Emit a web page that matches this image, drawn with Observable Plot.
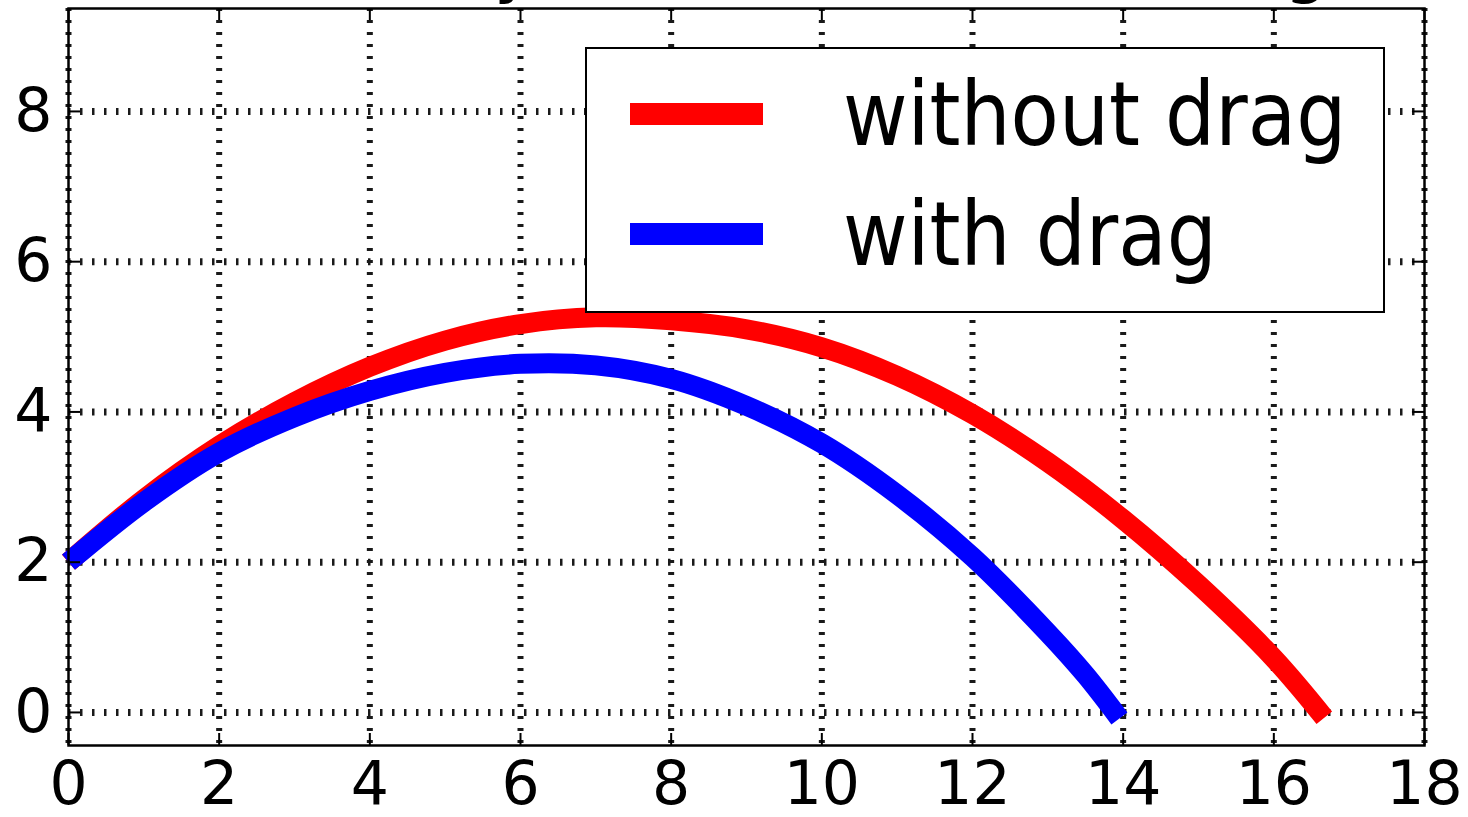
<!DOCTYPE html>
<html>
<head>
<meta charset="utf-8">
<script src="https://cdn.jsdelivr.net/npm/d3@7"></script>
<script src="https://cdn.jsdelivr.net/npm/@observablehq/plot@0.6"></script>
<style>
  html, body { margin: 0; padding: 0; background: white; overflow: hidden; }
  #wrap { position: relative; width: 1468px; height: 817px; font-family: "DejaVu Sans", sans-serif; }
  #title { position: absolute; left: -52px; top: -69px; font-size: 70px; line-height: 1; color: black; white-space: nowrap; z-index: 5; }
  #legend { position: absolute; left: 585px; top: 47px; width: 800px; height: 266px; box-sizing: border-box; border: 2px solid black; background: white; }
  .sw { position: absolute; left: 43px; width: 133px; height: 22px; }
  .lt { position: absolute; left: 256px; font-size: 79px; line-height: 1; color: black; white-space: nowrap; transform-origin: 0 66.8px; transform: scaleY(1.12); }
</style>
</head>
<body>
<div id="wrap">
  <div id="chart"></div>
  <div id="title"></div>
  <div id="legend"></div>
</div>
<script>
// Tick values
const xTicks = [0, 2, 4, 6, 8, 10, 12, 14, 16, 18];
const yTicks = [0, 2, 4, 6, 8];

// Series: without drag (red)
const redX = [0, 1, 2, 3, 4, 5, 6, 7, 8, 9, 10, 11, 12, 13, 14, 15, 16, 16.67];
const redY = [2.0, 2.84, 3.55, 4.13, 4.6, 4.95, 5.17, 5.26, 5.22, 5.1, 4.86, 4.48, 3.97, 3.33, 2.57, 1.7, 0.72, -0.07];

// Series: with drag (blue)
const blueX = [0, 1, 2, 3, 4, 5, 6, 7, 8, 9, 10, 11, 12, 13, 13.5, 13.95];
const blueY = [2.0, 2.8, 3.46, 3.93, 4.28, 4.52, 4.64, 4.62, 4.44, 4.08, 3.58, 2.9, 2.07, 1.06, 0.5, -0.08];

const seriesNames = ["without drag", "with drag"];
const seriesColors = ["red", "blue"];
const titleText = "Motion of a body with and without drag";

const red = redX.map((x, i) => ({x, y: redY[i]}));
const blue = blueX.map((x, i) => ({x, y: blueY[i]}));

const xDom = [0, 18];
const yDom = [-0.44, 9.37];
const tx = 0.16, ty = 0.16;

const chart = Plot.plot({
  width: 1468,
  height: 817,
  marginLeft: 68,
  marginRight: 44,
  marginTop: 8,
  marginBottom: 72,
  x: {domain: xDom, label: null},
  y: {domain: yDom, label: null},
  style: {fontFamily: "DejaVu Sans", fontSize: "60px", color: "black", background: "white"},
  marks: [
    Plot.ruleY(yTicks, {stroke: "#1a1a1a", strokeWidth: 7, strokeDasharray: "2.5,9.5"}),
    Plot.ruleX(xTicks, {stroke: "#1a1a1a", strokeWidth: 6, strokeDasharray: "3,9"}),
    Plot.line(red, {x: "x", y: "y", stroke: seriesColors[0], strokeWidth: 20, curve: "catmull-rom", strokeLinecap: "butt", strokeLinejoin: "round"}),
    Plot.line(blue, {x: "x", y: "y", stroke: seriesColors[1], strokeWidth: 20, curve: "catmull-rom", strokeLinecap: "butt", strokeLinejoin: "round"}),
    Plot.ruleY(yTicks, {x1: xDom[0], x2: xDom[0] + tx, stroke: "black", strokeWidth: 2}),
    Plot.ruleY(yTicks, {x1: xDom[1] - tx, x2: xDom[1], stroke: "black", strokeWidth: 2}),
    Plot.ruleX(xTicks, {y1: yDom[0], y2: yDom[0] + ty, stroke: "black", strokeWidth: 2}),
    Plot.ruleX(xTicks, {y1: yDom[1] - ty, y2: yDom[1], stroke: "black", strokeWidth: 2}),
    Plot.frame({stroke: "black", strokeWidth: 2.5}),
    Plot.axisX({ticks: xTicks, tickSize: 0, tickPadding: 16, tickFormat: d => String(d), label: null}),
    Plot.axisY({ticks: yTicks, tickSize: 0, tickPadding: 16, tickFormat: d => String(d), label: null})
  ]
});
document.getElementById("chart").appendChild(chart);

document.getElementById("title").textContent = titleText;

const legend = document.getElementById("legend");
const swTops = [54, 174];
const txtTops = [146 - 66.8 - 49, 266 - 66.8 - 49];
seriesNames.forEach((name, i) => {
  const sw = document.createElement("div");
  sw.className = "sw";
  sw.style.top = swTops[i] + "px";
  sw.style.background = seriesColors[i];
  legend.appendChild(sw);
  const t = document.createElement("div");
  t.className = "lt";
  t.style.top = txtTops[i] + "px";
  t.textContent = name;
  legend.appendChild(t);
});
</script>
</body>
</html>
